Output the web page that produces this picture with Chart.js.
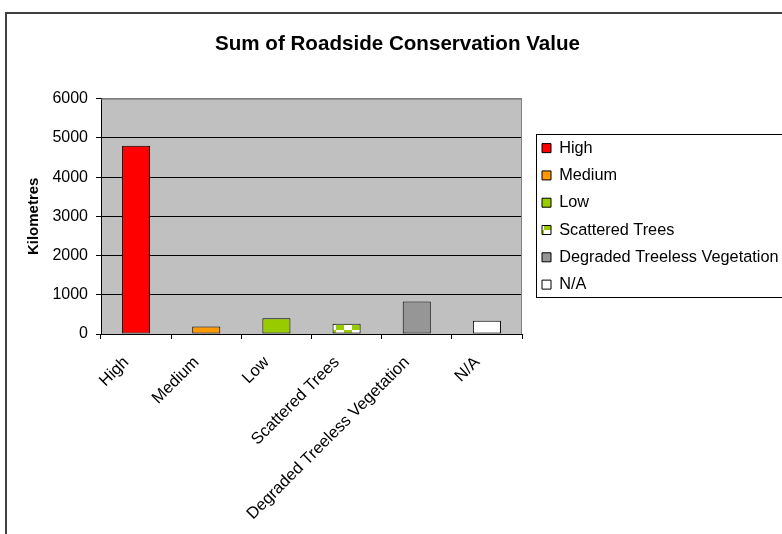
<!DOCTYPE html>
<html lang="en">

<head>
    <meta charset="UTF-8">
    <title>Sum of Roadside Conservation Value</title>
    <script src="https://cdn.jsdelivr.net/npm/chart.js@4/dist/chart.umd.min.js"></script>
    <style>
        body { margin: 0; background: #fff; }
    </style>
</head>

<body>
    <canvas id="mychart" width="782" height="534"></canvas>

    <script>
        // data
        const categories = ['High', 'Medium', 'Low', 'Scattered Trees', 'Degraded Treeless Vegetation', 'N/A'];
        const kilometres = [4800, 190, 400, 260, 830, 340];
        const yTicks = [0, 1000, 2000, 3000, 4000, 5000, 6000];

        const font = 'Liberation Sans, Arial, sans-serif';

        // checker pattern for "Scattered Trees"
        const pat = document.getElementById('mychart').getContext('2d');
        function checker() {
            const c = document.createElement('canvas');
            c.width = 16; c.height = 10;
            const g = c.getContext('2d');
            g.fillStyle = '#fff';
            g.fillRect(0, 0, 16, 10);
            g.fillStyle = '#99cc00';
            g.fillRect(8, 0, 8, 5);
            g.fillRect(0, 5, 8, 5);
            return pat.createPattern(c, 'repeat');
        }
        const colors = ['#ff0000', '#ff9900', '#99cc00', checker(), '#969696', '#ffffff'];

        // plot background, plot border, outer frame, legend frame
        const frame = {
            id: 'frame',
            beforeDraw(chart) {
                const { ctx, chartArea: a } = chart;
                ctx.save();
                ctx.fillStyle = '#fff';
                ctx.fillRect(0, 0, chart.width, chart.height);
                ctx.fillStyle = '#c0c0c0';
                ctx.fillRect(a.left, a.top, a.right - a.left, a.bottom - a.top);
                ctx.restore();
            },
            afterDraw(chart) {
                const { ctx, chartArea: a } = chart;
                ctx.save();
                ctx.strokeStyle = '#808080';
                ctx.lineWidth = 1;
                ctx.beginPath();
                ctx.moveTo(a.left, a.top + 0.5);
                ctx.lineTo(a.right - 0.5, a.top + 0.5);
                ctx.lineTo(a.right - 0.5, a.bottom);
                ctx.stroke();

                // outer chart frame
                ctx.strokeStyle = '#404040';
                ctx.lineWidth = 2;
                ctx.beginPath();
                ctx.moveTo(6, chart.height);
                ctx.lineTo(6, 13);
                ctx.lineTo(chart.width, 13);
                ctx.stroke();

                // legend frame
                const hb = chart.legend.legendHitBoxes;
                if (hb && hb.length) {
                    const first = hb[0], last = hb[hb.length - 1];
                    const top = Math.round(first.top + first.height / 2 - 14);
                    const bottom = Math.round(last.top + last.height / 2 + 12);
                    const left = Math.round(chart.legend.left) + 5.5;
                    ctx.strokeStyle = '#000';
                    ctx.lineWidth = 1;
                    ctx.strokeRect(left, top + 0.5, chart.width, bottom - top);
                }
                ctx.restore();
            }
        };

        Chart.defaults.font.family = font;
        Chart.defaults.color = '#000';

        const ctx = document.getElementById('mychart');
        const mychart = new Chart(ctx, {
            type: 'bar',
            data: {
                labels: categories,
                datasets: [{
                    label: 'Kilometres',
                    data: kilometres,
                    backgroundColor: colors,
                    borderColor: '#000',
                    borderWidth: 1,
                    borderSkipped: false,
                    barPercentage: 0.4,
                    categoryPercentage: 1.0,
                }],
            },
            options: {
                responsive: false,
                animation: false,
                devicePixelRatio: 1,
                layout: {
                    padding: { top: 13, left: 13, right: 0, bottom: 0 }
                },
                plugins: {
                    title: {
                        display: true,
                        text: 'Sum of Roadside Conservation Value',
                        font: { size: 20.6, weight: 'bold' },
                        color: '#000',
                        padding: { top: 19, bottom: 42 },
                    },
                    legend: {
                        position: 'right',
                        fullSize: false,
                        maxWidth: 251,
                        labels: {
                            font: { size: 16.3 },
                            color: '#000',
                            boxWidth: 9,
                            boxHeight: 9,
                            padding: 11,
                            generateLabels: (chart) => chart.data.labels.map((l, i) => ({
                                text: l,
                                fillStyle: colors[i],
                                strokeStyle: '#000',
                                lineWidth: 1,
                                hidden: false,
                                index: i,
                                fontColor: '#000',
                            })),
                        },
                    },
                    tooltip: { enabled: false },
                },
                scales: {
                    x: {
                        grid: {
                            display: true,
                            drawOnChartArea: false,
                            drawTicks: true,
                            tickLength: 5,
                            color: '#000',
                            offset: true,
                        },
                        border: { display: true, color: '#000', width: 1 },
                        ticks: {
                            font: { size: 16.5 },
                            color: '#000',
                            maxRotation: 45,
                            minRotation: 45,
                            autoSkip: false,
                            padding: 4,
                            // trailing gap pushes the rotated text down-left like the original
                            callback: function (v) { return this.getLabelForValue(v) + '   '; },
                        },
                        afterFit: (s) => { s.height = 200; },
                    },
                    y: {
                        min: 0,
                        max: 6000,
                        afterBuildTicks: (s) => { s.ticks = yTicks.map(v => ({ value: v })); },
                        grid: {
                            color: (c) => c.tick && c.tick.value === 6000 ? '#808080' : '#000',
                            tickColor: '#000',
                            tickLength: 5,
                        },
                        border: { display: true, color: '#000', width: 1 },
                        ticks: {
                            font: { size: 16 },
                            color: '#000',
                            padding: 8,
                            callback: (v) => String(v),
                        },
                        title: {
                            display: true,
                            text: 'Kilometres',
                            font: { size: 15, weight: 'bold' },
                            color: '#000',
                            padding: { top: 12, bottom: 0 },
                        },
                        afterFit: (s) => { s.width = 88; },
                    },
                    y2: {
                        position: 'right',
                        display: true,
                        grid: { display: false, drawTicks: false },
                        border: { display: false },
                        ticks: { display: false },
                        afterFit: (s) => { s.width = 9; },
                    },
                },
            },
            plugins: [frame],
        });
    </script>
</body>

</html>
